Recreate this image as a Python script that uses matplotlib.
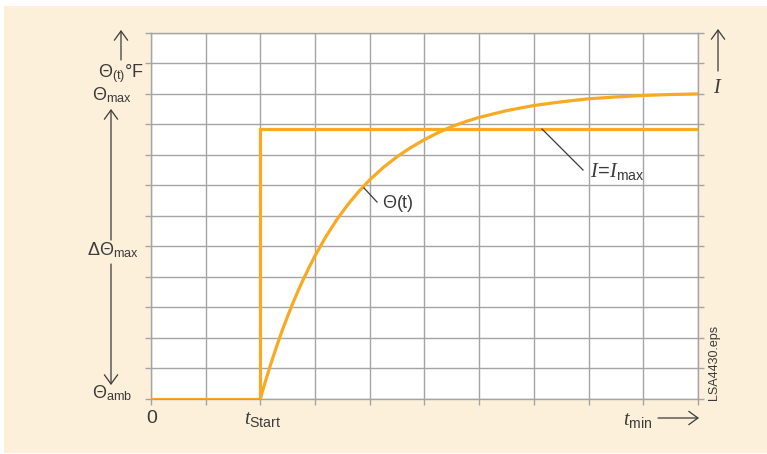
import matplotlib
matplotlib.use("Agg")
import matplotlib.pyplot as plt
from matplotlib.patches import Rectangle

# ---- data (grid units: x = time divisions, y = temperature divisions) ----
t_current = [0, 2, 2, 10]
i_current = [0, 0, 8.86, 8.86]

t_theta = [2.0, 2.1, 2.2, 2.3, 2.4, 2.5, 2.6, 2.7, 2.8, 2.9, 3.0, 3.2, 3.4,
           3.6, 3.8, 4.0, 4.25, 4.5, 4.75, 5.0, 5.25, 5.5, 5.75, 6.0, 6.5,
           7.0, 7.5, 8.0, 8.5, 9.0, 9.5, 10.0]
theta = [0.0, 0.61, 1.19, 1.73, 2.24, 2.71, 3.16, 3.58, 3.97, 4.34, 4.69,
         5.32, 5.88, 6.37, 6.80, 7.18, 7.59, 7.94, 8.24, 8.50, 8.73, 8.93,
         9.09, 9.23, 9.45, 9.62, 9.74, 9.84, 9.90, 9.95, 9.98, 10.0]

x_ticks = list(range(0, 11))
y_ticks = list(range(0, 13))

# ---- style ----
plt.rcParams['font.family'] = ['Liberation Sans', 'DejaVu Sans']
plt.rcParams['mathtext.fontset'] = 'custom'
plt.rcParams['mathtext.rm'] = 'Liberation Sans'
plt.rcParams['mathtext.sf'] = 'Liberation Sans'
plt.rcParams['mathtext.it'] = 'Liberation Serif:italic'

W, H = 767, 454
CREAM = '#fdf0db'
GRID = '#a4a4a4'
ORANGE = '#f8aa22'
TXT = '#3a3a3a'

fig = plt.figure(figsize=(W / 100, H / 100), dpi=100, facecolor='white')
fig.patches.append(Rectangle((4 / W, 1 - 453 / H), (W - 4) / W, (453 - 6) / H,
                             transform=fig.transFigure, facecolor=CREAM,
                             edgecolor='none', zorder=-10))

def fx(px):
    return px / W

def fy(py):
    return 1 - py / H

ax = fig.add_axes([fx(151), fy(398.5), (698 - 151) / W, (398.5 - 33) / H])
ax.set_facecolor('white')
ax.set_xlim(0, 10)
ax.set_ylim(0, 12)
ax.set_xticks(x_ticks)
ax.set_yticks(y_ticks)
ax.set_xticklabels([])
ax.set_yticklabels([])
ax.grid(True, color=GRID, linewidth=1.0)
ax.tick_params(axis='both', direction='out', length=4, width=1.0, color=GRID,
               left=True, right=True, bottom=True, top=False)
for s in ax.spines.values():
    s.set_color(GRID)
    s.set_linewidth(1.0)
ax.set_axisbelow(True)

ax.plot(t_current, i_current, color=ORANGE, lw=2.3, solid_joinstyle='miter', zorder=3)
ax.plot(t_theta, theta, color=ORANGE, lw=2.3, zorder=3, solid_joinstyle='round')

# ---- texts ----
fs = 13
def ftext(px, py, s, **kw):
    kw.setdefault('color', TXT)
    kw.setdefault('fontsize', fs)
    fig.text(fx(px), fy(py), s, **kw)

ftext(121, 77, r'$\Theta_{\mathrm{(t)}}$°F', ha='center', va='baseline')
ftext(112, 100, r'$\Theta_{\mathrm{max}}$', ha='center', va='baseline')
ftext(113, 255, r'$\Delta\Theta_{\mathrm{max}}$', ha='center', va='baseline')
ftext(112, 398, r'$\Theta_{\mathrm{amb}}$', ha='center', va='baseline')
ftext(152, 423, '0', ha='center', va='baseline', fontsize=14)
ftext(244, 424, r'$t_{\mathrm{Start}}$', ha='left', va='baseline', fontsize=14.5)
ftext(623, 425, r'$t_{\mathrm{min}}$', ha='left', va='baseline', fontsize=14.5)
ftext(718, 93, r'$I$', ha='center', va='baseline', fontsize=14.5)
ftext(590, 177, r'$I\!=\!I_{\mathrm{max}}$', ha='left', va='baseline', fontsize=14.5)
ftext(382, 208, r'$\Theta$(t)', ha='left', va='baseline')
ftext(714, 400, 'LSA4430.eps', ha='center', va='bottom', rotation=90, fontsize=9)

# ---- arrows and leader lines ----
def arrow(p_tail, p_tip):
    fig.add_artist(matplotlib.patches.FancyArrowPatch(
        (fx(p_tail[0]), fy(p_tail[1])), (fx(p_tip[0]), fy(p_tip[1])),
        transform=fig.transFigure, arrowstyle='->,head_length=0.55,head_width=0.4',
        mutation_scale=12, color=TXT, lw=0.9, shrinkA=0, shrinkB=0))

arrow((121, 60), (121, 30))
arrow((111, 240), (111, 109))
arrow((111, 264), (111, 385))
arrow((718, 71), (718, 29))
arrow((658, 418), (699, 418))

def seg(p1, p2):
    fig.add_artist(plt.Line2D([fx(p1[0]), fx(p2[0])], [fy(p1[1]), fy(p2[1])],
                              transform=fig.transFigure, color=TXT, lw=0.9))

seg((542, 129), (583, 170))
seg((364, 188), (377, 202))

fig.savefig('out.png', dpi=100, facecolor='white')
